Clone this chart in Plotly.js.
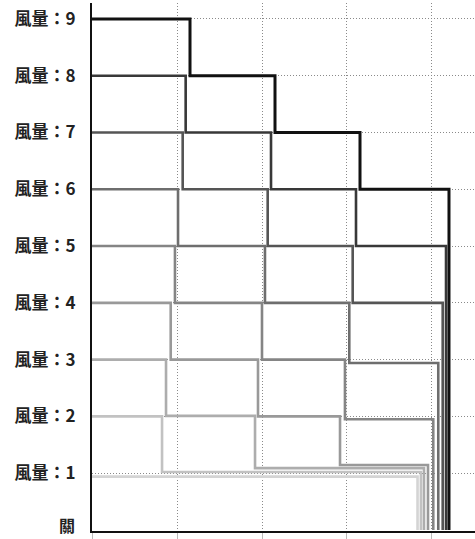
<!DOCTYPE html>
<html>
<head>
<meta charset="utf-8">
<script src="https://cdn.plot.ly/plotly-3.0.1.min.js"></script>
<style>
  html, body { margin: 0; padding: 0; background: #fff; }
  #fan-plot { width: 475px; height: 539px; }
</style>
</head>
<body>
<div id="fan-plot"></div>
<script>
//data
// y axis ticks: 0 = off, 1..9 = fan level
let levelTicks = [0, 1, 2, 3, 4, 5, 6, 7, 8, 9];
let levelLabels = ['關', '風量：1', '風量：2', '風量：3', '風量：4',
    '風量：5', '風量：6', '風量：7', '風量：8', '風量：9'];
let timeTicks = [0, 1, 2, 3, 4];

// step change times for each starting level
let stepTimes1 = [0, 3.83];
let stepTimes2 = [0, 0.824, 3.87];
let stepTimes3 = [0, 0.871, 1.918, 3.906];
let stepTimes4 = [0, 0.926, 1.953, 2.918, 3.953];
let stepTimes5 = [0, 0.976, 2.0, 2.976, 4.015];
let stepTimes6 = [0, 1.012, 2.035, 3.027, 4.074];
let stepTimes7 = [0, 1.067, 2.067, 3.067, 4.126];
let stepTimes8 = [0, 1.102, 2.106, 3.106, 4.165];
let stepTimes9 = [0, 1.153, 2.153, 3.153, 4.2];

// level held after each change
let stepLevels1 = [0.94, 0];
let stepLevels2 = [2, 1.02, 0];
let stepLevels3 = [3, 2.01, 1.09, 0];
let stepLevels4 = [4, 3, 2, 1.145, 0];
let stepLevels5 = [5, 4, 3, 1.95, 0];
let stepLevels6 = [6, 5, 4, 2.94, 0];
let stepLevels7 = [7, 6, 5, 4, 0];
let stepLevels8 = [8, 7, 6, 5, 0];
let stepLevels9 = [9, 8, 7, 6, 0];

let allTimes = [stepTimes1, stepTimes2, stepTimes3, stepTimes4, stepTimes5,
    stepTimes6, stepTimes7, stepTimes8, stepTimes9];
let allLevels = [stepLevels1, stepLevels2, stepLevels3, stepLevels4, stepLevels5,
    stepLevels6, stepLevels7, stepLevels8, stepLevels9];

//styles
let lineColors = ['#d4d4d4', '#c2c2c2', '#adadad', '#999999', '#858585',
    '#6e6e6e', '#555555', '#383838', '#111111'];
let labelFont = {family: '"Noto Sans CJK TC", "Noto Sans CJK JP", sans-serif', size: 17, color: '#222222', weight: 'bold'};
let yRange = [-0.018, 9.28];

let plotData = allTimes.map(function(times, i){
    return {
        x: times,
        y: allLevels[i],
        mode: 'lines',
        line: {shape: 'hv', color: lineColors[i], width: i === 8 ? 3 : 2.6},
        hoverinfo: 'skip'
    };
});

// invisible point so the overlay axis with the "off" label gets drawn
plotData.unshift({
    x: [timeTicks[0]],
    y: [levelTicks[0]],
    yaxis: 'y2',
    mode: 'markers',
    marker: {opacity: 0},
    hoverinfo: 'skip'
});

let plotLayout = {
    width: 475,
    height: 539,
    margin: {l: 92, r: 0, t: 3, b: 8},
    paper_bgcolor: '#ffffff',
    plot_bgcolor: '#ffffff',
    showlegend: false,
    xaxis: {
        range: [0, 4.506],
        tickvals: timeTicks,
        showticklabels: false,
        ticks: 'outside',
        ticklen: 7,
        tickcolor: '#bbbbbb',
        tickwidth: 1,
        showgrid: true,
        gridcolor: '#8a8a8a',
        griddash: '1px,2px',
        gridwidth: 1,
        zeroline: false,
        showline: true,
        linecolor: '#111111',
        linewidth: 2
    },
    yaxis: {
        range: yRange,
        tickvals: levelTicks.slice(1),
        ticktext: levelLabels.slice(1),
        ticks: '',
        ticklabelstandoff: 11,
        tickfont: labelFont,
        showgrid: true,
        gridcolor: '#8a8a8a',
        griddash: '1px,2px',
        gridwidth: 1,
        zeroline: false,
        showline: true,
        linecolor: '#111111',
        linewidth: 2
    },
    // second axis only carries the "off" label, nudged up off the bottom edge
    yaxis2: {
        overlaying: 'y',
        side: 'left',
        range: yRange,
        tickvals: [levelTicks[0] + 0.07],
        ticktext: [levelLabels[0]],
        ticks: '',
        ticklabelstandoff: 16,
        ticklabeloverflow: 'allow',
        tickfont: Object.assign({}, labelFont, {size: 16}),
        showgrid: false,
        zeroline: false,
        showline: false
    }
};

Plotly.newPlot('fan-plot', plotData, plotLayout, {displayModeBar: false, staticPlot: true});
</script>
</body>
</html>
